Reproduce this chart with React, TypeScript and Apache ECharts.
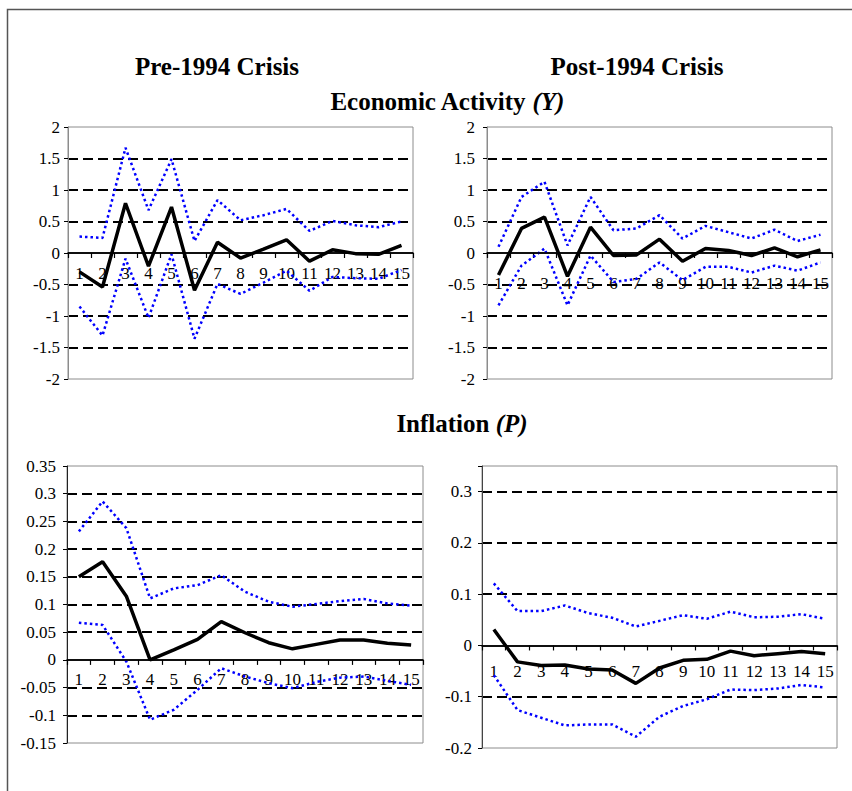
import React, { useEffect, useRef } from "react";
import * as echarts from "echarts";

const categories = ["1", "2", "3", "4", "5", "6", "7", "8", "9", "10", "11", "12", "13", "14", "15"];

// Economic Activity (Y) — Pre-1994
const preYMid = [-0.3, -0.54, 0.79, -0.21, 0.73, -0.59, 0.17, -0.08, 0.06, 0.21, -0.13, 0.05, -0.01, -0.02, 0.12];
const preYUp = [0.26, 0.24, 1.67, 0.68, 1.49, 0.19, 0.84, 0.52, 0.6, 0.7, 0.35, 0.51, 0.44, 0.41, 0.5];
const preYLow = [-0.85, -1.31, -0.09, -1.03, -0.02, -1.36, -0.49, -0.65, -0.47, -0.28, -0.6, -0.38, -0.4, -0.41, -0.27];

// Economic Activity (Y) — Post-1994
const postYMid = [-0.35, 0.39, 0.57, -0.37, 0.41, -0.04, -0.03, 0.22, -0.13, 0.07, 0.04, -0.04, 0.08, -0.06, 0.05];
const postYUp = [0.1, 0.89, 1.13, 0.12, 0.89, 0.36, 0.39, 0.6, 0.23, 0.43, 0.33, 0.23, 0.37, 0.19, 0.29];
const postYLow = [-0.83, -0.2, 0.07, -0.83, -0.04, -0.46, -0.41, -0.15, -0.43, -0.22, -0.22, -0.31, -0.2, -0.28, -0.15];

// Inflation (P) — Pre-1994
const prePMid = [0.15, 0.177, 0.115, 0.0, 0.018, 0.037, 0.069, 0.049, 0.031, 0.02, 0.028, 0.036, 0.036, 0.03, 0.027];
const prePUp = [0.232, 0.286, 0.238, 0.111, 0.129, 0.135, 0.153, 0.123, 0.105, 0.096, 0.101, 0.106, 0.11, 0.102, 0.098];
const prePLow = [0.067, 0.063, -0.003, -0.108, -0.09, -0.054, -0.015, -0.03, -0.042, -0.051, -0.04, -0.032, -0.03, -0.038, -0.045];

// Inflation (P) — Post-1994
const postPMid = [0.031, -0.032, -0.039, -0.038, -0.046, -0.048, -0.074, -0.044, -0.029, -0.027, -0.011, -0.02, -0.016, -0.012, -0.016];
const postPUp = [0.121, 0.067, 0.067, 0.078, 0.063, 0.054, 0.037, 0.048, 0.059, 0.052, 0.066, 0.055, 0.056, 0.061, 0.052];
const postPLow = [-0.058, -0.126, -0.141, -0.156, -0.154, -0.154, -0.178, -0.139, -0.118, -0.105, -0.086, -0.087, -0.084, -0.077, -0.082];

const FONT = '"Liberation Serif", "Times New Roman", serif';
const T = "rgba(0,0,0,0)";
const K = "#000";

export default function App() {
  const ref = useRef<HTMLDivElement>(null);

  useEffect(() => {
    if (!ref.current) return;
    const chart = echarts.init(ref.current, undefined, { renderer: "svg" });

    const gridBoxes = [
      { left: 68, top: 127, width: 345, height: 252 },
      { left: 487, top: 127, width: 345, height: 252 },
      { left: 67, top: 466, width: 356, height: 277 },
      { left: 482, top: 466, width: 355, height: 282 },
    ];
    const grids = gridBoxes.map((g) => ({ ...g, show: true, borderColor: "#8c8c8c", borderWidth: 1 }));

    const yCfg = [
      { min: -2, max: 2, interval: 0.5, colors: [T, K, K, K, T, K, K, K, T], margin: 8, axisColor: "#8c8c8c" },
      { min: -2, max: 2, interval: 0.5, colors: [T, K, K, K, T, K, K, K, T], margin: 12, axisColor: "#8c8c8c" },
      { min: -0.15, max: 0.35, interval: 0.05, colors: [T, K, K, T, K, K, K, K, K, K, T], margin: 11, axisColor: "#222" },
      { min: -0.2, max: 0.35, interval: 0.1, colors: [T, K, T, K, K, K, T], margin: 10, axisColor: "#444" },
    ];

    const xLabelMargins = [12, 22, 11, 18];
    const xAxis = gridBoxes.map((g, i) => {
      const c = yCfg[i];
      // place the category axis on the value 0 of its panel's value axis
      const zeroOffset = -g.height * (0 - c.min) / (c.max - c.min);
      return {
        type: "category",
        gridIndex: i,
        data: categories,
        boundaryGap: true,
        position: "bottom",
        offset: zeroOffset,
        axisLine: { show: true, onZero: false, lineStyle: { color: "#000", width: 1.5 } },
        axisTick: { show: true, length: 5, lineStyle: { color: "#000", width: 1.2 } },
        axisLabel: { color: "#000", fontFamily: FONT, fontSize: 17, margin: xLabelMargins[i], interval: 0 },
        splitLine: { show: false },
        z: 2,
      };
    });

    const yAxis = yCfg.map((c, i) => ({
      type: "value",
      gridIndex: i,
      min: c.min,
      max: c.max,
      interval: c.interval,
      axisLine: { show: true, onZero: false, lineStyle: { color: c.axisColor, width: 1 } },
      axisTick: { show: true, length: 4, lineStyle: { color: "#000" } },
      axisLabel: {
        color: "#000",
        fontFamily: FONT,
        fontSize: 17,
        margin: c.margin,
        formatter: (v: number) => (i === 3 && v > 0.34 ? "" : String(Math.round(v * 1000) / 1000)),
      },
      splitLine: { show: true, lineStyle: { color: c.colors, width: 2, type: [10, 5] } },
    }));

    const panels = [
      [preYMid, preYUp, preYLow],
      [postYMid, postYUp, postYLow],
      [prePMid, prePUp, prePLow],
      [postPMid, postPUp, postPLow],
    ];
    const series: any[] = [];
    panels.forEach((p, i) => {
      [p[1], p[2]].forEach((d, j) => {
        series.push({
          type: "line",
          xAxisIndex: i,
          yAxisIndex: i,
          data: d,
          symbol: "none",
          lineStyle: { color: "#0000ff", width: 2.5, type: [2.5, 3] },
          z: 3,
          markLine:
            j === 0
              ? {
                  silent: true,
                  symbol: ["none", "none"],
                  label: { show: false },
                  lineStyle: { color: "#000", width: 1.5, type: "solid" },
                  data: [{ yAxis: 0 }],
                }
              : undefined,
        });
      });
      series.push({
        type: "line",
        xAxisIndex: i,
        yAxisIndex: i,
        data: p[0],
        symbol: "none",
        lineStyle: { color: "#000", width: 3.5 },
        z: 4,
      });
    });

    const titleFont = { fontFamily: FONT, fontSize: 25, fontWeight: "bold" as const };
    chart.setOption({
      animation: false,
      backgroundColor: "#fff",
      grid: grids,
      xAxis,
      yAxis,
      series,
      graphic: [
        {
          type: "rect",
          shape: { x: 7.5, y: 9.5, width: 900, height: 900 },
          style: { fill: "none", stroke: "#555", lineWidth: 1.5 },
          silent: true,
        },
        {
          type: "text",
          x: 217,
          y: 66,
          style: { text: "Pre-1994 Crisis", font: `bold 25px ${FONT}`, fill: "#000", align: "center", verticalAlign: "middle" },
        },
        {
          type: "text",
          x: 637,
          y: 66,
          style: { text: "Post-1994 Crisis", font: `bold 25px ${FONT}`, fill: "#000", align: "center", verticalAlign: "middle" },
        },
        {
          type: "text",
          x: 447,
          y: 101,
          style: {
            text: "{a|Economic Activity }{b|(Y)}",
            align: "center",
            verticalAlign: "middle",
            rich: {
              a: { ...titleFont, color: "#000" },
              b: { ...titleFont, fontStyle: "italic", color: "#000" },
            },
          },
        },
        {
          type: "text",
          x: 462,
          y: 423,
          style: {
            text: "{a|Inflation }{b|(P)}",
            align: "center",
            verticalAlign: "middle",
            rich: {
              a: { ...titleFont, color: "#000" },
              b: { ...titleFont, fontStyle: "italic", color: "#000" },
            },
          },
        },
      ],
    });

    return () => chart.dispose();
  }, []);

  return <div ref={ref} style={{ position: "absolute", left: 0, top: 0, width: 852, height: 791 }} />;
}
